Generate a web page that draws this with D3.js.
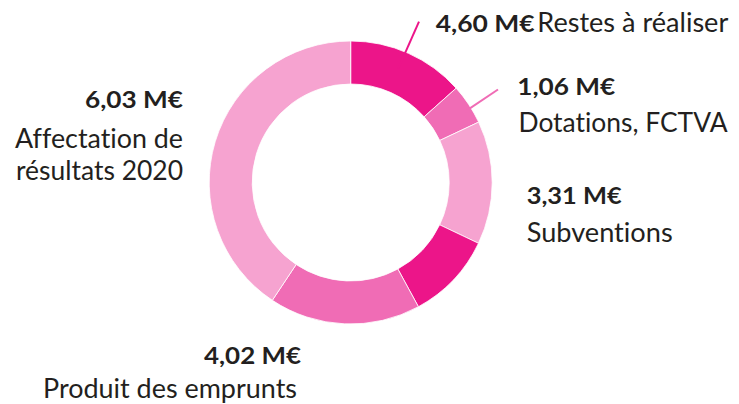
<!DOCTYPE html>
<html>
<head>
<meta charset="utf-8">
<script src="https://cdn.jsdelivr.net/npm/d3@7"></script>
<style>
html,body{margin:0;padding:0;background:#fff;}
svg{display:block;}
text{font-family:Lato,"Open Sans",sans-serif;fill:#231f20;font-variant-ligatures:none;font-feature-settings:"liga" 0,"dlig" 0;}
</style>
</head>
<body>
<svg id="chart" width="739" height="404"></svg>
<script>
// Slices, clockwise from 12 o'clock (share of the ring as drawn, %)
const sliceNames  = ["Restes à réaliser", "Dotations, FCTVA", "Subventions", "Autre", "Produit des emprunts", "Affectation de résultats 2020"];
const sliceShares = [13.4, 4.6, 14.1, 10.0, 17.3, 40.7];
const sliceColors = ["#ec1589", "#f06cb5", "#f6a3d0", "#ec1589", "#f06cb5", "#f6a3d0"];

// Labels
const labelAmounts = ["4,60 M€", "1,06 M€", "3,31 M€", "4,02 M€", "6,03 M€"];
const labelTexts   = [["Restes à réaliser"], ["Dotations, FCTVA"], ["Subventions"], ["Produit des emprunts"], ["Affectation de", "résultats 2020"]];

const svg = d3.select("#chart");
const cx = 350.7, cy = 182.5, rOuter = 141.5, rInner = 98.5;

const pie = d3.pie().sort(null).value(d => d).startAngle(0).endAngle(2 * Math.PI);
const arc = d3.arc().innerRadius(rInner).outerRadius(rOuter);
const arcs = pie(sliceShares);

const g = svg.append("g").attr("transform", `translate(${cx},${cy})`);
g.selectAll("path")
  .data(arcs)
  .join("path")
  .attr("d", arc)
  .attr("fill", (d, i) => sliceColors[i])
  .attr("stroke", "#fff")
  .attr("stroke-width", 0.8);

// Leader lines
const leaders = [
  {x1: 398.3, y1: 68.3, x2: 419, y2: 21.7, c: sliceColors[0]},
  {x1: 465, y1: 111.7, x2: 498, y2: 89.5, c: sliceColors[1]}
];
svg.selectAll("line.leader")
  .data(leaders)
  .join("line")
  .attr("class", "leader")
  .attr("x1", d => d.x1).attr("y1", d => d.y1)
  .attr("x2", d => d.x2).attr("y2", d => d.y2)
  .attr("stroke", d => d.c)
  .attr("stroke-width", 2);

const FS_BOLD = 23.5, FS_REG = 26;

function txt(x, y, t, weight, width, anchor) {
  const el = svg.append("text").attr("x", x).attr("y", y)
    .attr("text-anchor", anchor || "start")
    .style("font-size", (weight >= 700 ? FS_BOLD : FS_REG) + "px")
    .style("font-weight", weight).text(t);
  if (width) el.attr("textLength", width).attr("lengthAdjust", "spacingAndGlyphs");
  return el;
}

// Restes à réaliser (same line)
txt(435.7, 32.3, labelAmounts[0], 700, 99);
txt(537.3, 32.3, labelTexts[0][0], 400, 191);

// Dotations
txt(517.3, 95, labelAmounts[1], 700, 98);
txt(518.5, 131.7, labelTexts[1][0], 400, 209);

// Subventions
txt(526.7, 204, labelAmounts[2], 700, 95);
txt(526.7, 241.7, labelTexts[2][0], 400, 146);

// Produit des emprunts
txt(301, 364.3, labelAmounts[3], 700, 97, "end");
txt(297, 398, labelTexts[3][0], 400, 254, "end");

// Affectation
txt(183, 108.3, labelAmounts[4], 700, 98, "end");
txt(183, 148.3, labelTexts[4][0], 400, 168, "end");
txt(183, 180, labelTexts[4][1], 400, 167, "end");
</script>
</body>
</html>
